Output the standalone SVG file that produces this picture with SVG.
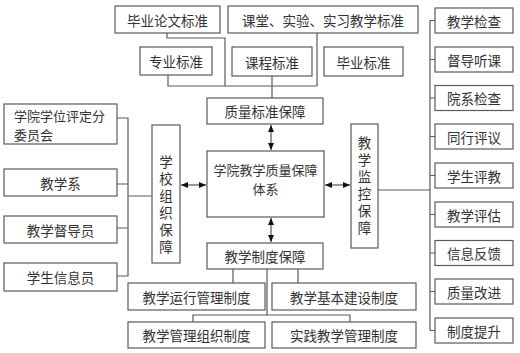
<svg xmlns="http://www.w3.org/2000/svg" width="520" height="353" viewBox="0 0 520 353">
<style>
rect{fill:#fff;stroke:#5a5a5a;stroke-width:1.2}
text{font-family:"Noto Sans CJK SC","Noto Sans",sans-serif;font-size:13.5px;fill:#333;dominant-baseline:central}
.c{text-anchor:middle}
.t{font-size:13px}
.v{text-anchor:middle;writing-mode:vertical-rl;letter-spacing:3.5px}
.l{fill:none;stroke:#5a5a5a;stroke-width:1.2}
.a{fill:none;stroke:#333;stroke-width:1;marker-start:url(#ah);marker-end:url(#ah)}
</style>
<defs>
<marker id="ah" markerUnits="userSpaceOnUse" markerWidth="7" markerHeight="6" refX="7" refY="3" orient="auto-start-reverse"><path d="M0,0 L7,3 L0,6 z" fill="#111"/></marker>
</defs>
<rect x="0" y="0" width="520" height="353" style="fill:#fff;stroke:none"/>
<g id="connectors">
<path class="l" d="M167,33 V38 H225 V86"/>
<path class="l" d="M168,75 V86 H317"/>
<path class="l" d="M317,33 V86"/>
<path class="l" d="M272,76 V98"/>
<path class="l" d="M117,118 H128 V276 H117 M117,184 H128 M117,228 H128 M128,196 H152"/>
<path class="l" d="M378,190 H430 M430,20.5 V330.5 M430,20.5 H435 M430,59.5 H435 M430,98 H435 M430,136.5 H435 M430,175.5 H435 M430,214.5 H435 M430,253 H435 M430,291.5 H435 M430,330.5 H435"/>
<path class="l" d="M233,269 V283 M298,269 V283 M267,269 V315 M193,322 V315 H350 V322"/>
<path class="a" d="M271,125 V150"/>
<path class="a" d="M271,218 V242"/>
<path class="a" d="M181,185 H206"/>
<path class="a" d="M325,185 H350"/>
</g>
<g id="n-biye-lunwen"><rect x="115" y="6" width="105" height="27"/><text class="c" x="167.5" y="19.5">毕业论文标准</text></g>
<g id="n-ketang"><rect x="228" y="6" width="190" height="27"/><text class="c" x="323" y="19.5">课堂、实验、实习教学标准</text></g>
<g id="n-zhuanye"><rect x="140" y="47" width="72" height="28"/><text class="c" x="176" y="61">专业标准</text></g>
<g id="n-kecheng"><rect x="232" y="47" width="80" height="29"/><text class="c" x="272" y="61.5">课程标准</text></g>
<g id="n-biye"><rect x="324" y="47" width="79" height="29"/><text class="c" x="363.5" y="61.5">毕业标准</text></g>
<g id="n-zhiliang-biaozhun"><rect x="207" y="98" width="116" height="26"/><text class="c" x="265" y="111">质量标准保障</text></g>
<g id="n-center"><rect x="207" y="151" width="117" height="66"/><text class="c t" x="265.5" y="169">学院教学质量保障</text><text class="c t" x="265.5" y="188.5">体系</text></g>
<g id="n-zhidu"><rect x="207" y="243" width="116" height="26"/><text class="c" x="265" y="256">教学制度保障</text></g>
<g id="n-xuexiao"><rect x="152" y="125" width="28" height="138"/><text class="v" x="166" y="206.25">学校组织保障</text></g>
<g id="n-jiankong"><rect x="351" y="124" width="27" height="124"/><text class="v" x="364.5" y="187.25">教学监控保障</text></g>
<g id="n-xueyuan"><rect x="4" y="104" width="113" height="40"/><text class="t" x="14" y="115">学院学位评定分</text><text class="t" x="14" y="134.5">委员会</text></g>
<g id="n-jiaoxuexi"><rect x="4" y="169" width="113" height="27"/><text class="c" x="60.5" y="182.5">教学系</text></g>
<g id="n-dudao"><rect x="4" y="216" width="113" height="27"/><text class="c" x="60.5" y="229.5">教学督导员</text></g>
<g id="n-xinxi"><rect x="4" y="263" width="113" height="28"/><text class="c" x="60.5" y="277">学生信息员</text></g>
<g id="n-yunxing"><rect x="128" y="283" width="137" height="27"/><text class="c" x="196.5" y="296.5">教学运行管理制度</text></g>
<g id="n-jiben"><rect x="272" y="283" width="144" height="27"/><text class="c" x="344" y="296.5">教学基本建设制度</text></g>
<g id="n-zuzhi"><rect x="128" y="322" width="137" height="26"/><text class="c" x="196.5" y="335">教学管理组织制度</text></g>
<g id="n-shijian"><rect x="272" y="322" width="144" height="26"/><text class="c" x="344" y="335">实践教学管理制度</text></g>
<g id="n-r1"><rect x="435" y="8" width="78" height="25"/><text class="c" x="474" y="20.5">教学检查</text></g>
<g id="n-r2"><rect x="435" y="47" width="78" height="25"/><text class="c" x="474" y="59.5">督导听课</text></g>
<g id="n-r3"><rect x="435" y="85.5" width="78" height="25"/><text class="c" x="474" y="98">院系检查</text></g>
<g id="n-r4"><rect x="435" y="124" width="78" height="25"/><text class="c" x="474" y="136.5">同行评议</text></g>
<g id="n-r5"><rect x="435" y="163" width="78" height="25"/><text class="c" x="474" y="175.5">学生评教</text></g>
<g id="n-r6"><rect x="435" y="202" width="78" height="25"/><text class="c" x="474" y="214.5">教学评估</text></g>
<g id="n-r7"><rect x="435" y="240.5" width="78" height="25"/><text class="c" x="474" y="253">信息反馈</text></g>
<g id="n-r8"><rect x="435" y="279" width="78" height="25"/><text class="c" x="474" y="291.5">质量改进</text></g>
<g id="n-r9"><rect x="435" y="318" width="78" height="25"/><text class="c" x="474" y="330.5">制度提升</text></g>
</svg>
